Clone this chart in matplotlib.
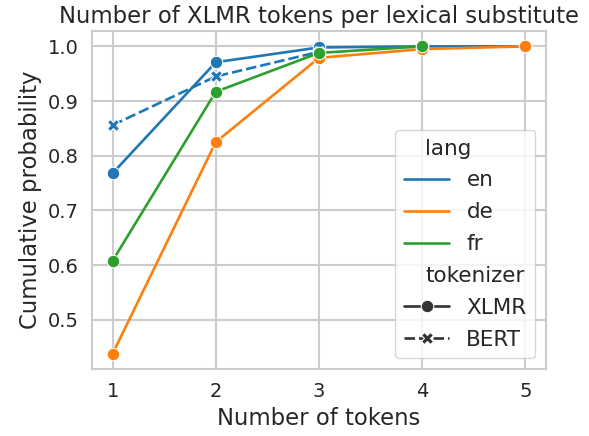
import matplotlib
matplotlib.use("Agg")
import matplotlib.pyplot as plt
import seaborn as sns
import pandas as pd

langs = ["en", "en", "en", "en", "en", "de", "de", "de", "de", "de", "fr", "fr", "fr", "fr", "en", "en", "en"]
tokenizers = ["XLMR"] * 14 + ["BERT"] * 3
n_tokens = [1, 2, 3, 4, 5, 1, 2, 3, 4, 5, 1, 2, 3, 4, 1, 2, 3]
cum_prob = [0.768, 0.971, 0.998, 1.0, 1.0,
            0.438, 0.825, 0.979, 0.995, 1.0,
            0.608, 0.917, 0.988, 1.0,
            0.856, 0.945, 0.99]
x_ticks = [1, 2, 3, 4, 5]
y_ticks = [0.5, 0.6, 0.7, 0.8, 0.9, 1.0]

df = pd.DataFrame({"Number of tokens": n_tokens, "Cumulative probability": cum_prob,
                   "lang": langs, "tokenizer": tokenizers})

sns.set_theme(style="whitegrid")
plt.rcParams.update({
    "xtick.labelsize": 14, "ytick.labelsize": 14,
    "axes.labelsize": 16.4, "axes.titlesize": 16.4,
    "legend.fontsize": 15.5, "grid.linewidth": 1.5, "axes.linewidth": 1.5,
})
fig = plt.figure(figsize=(5.89, 4.36), dpi=100)
ax = fig.add_axes([92 / 589, 1 - 369 / 436, (546 - 92) / 589, (369 - 31) / 436])
sns.lineplot(data=df, x="Number of tokens", y="Cumulative probability", hue="lang",
             style="tokenizer", markers=True, palette="tab10", linewidth=1.9,
             markersize=9,
             hue_order=["en", "de", "fr"], style_order=["XLMR", "BERT"], ax=ax)
ax.set_title("Number of XLMR tokens per lexical substitute")
ax.set_xticks(x_ticks)
ax.set_yticks(y_ticks)
leg = ax.legend(loc="lower right", handlelength=2.1, labelspacing=0.55)

# shift the group subtitles left, as in the reference
try:
    col = leg._legend_handle_box.get_children()[0]
    for row in col.get_children():
        da, ta = row.get_children()
        if ta._text.get_text() in ("lang", "tokenizer"):
            da.width = 3
except Exception:
    pass

fig.savefig("out.png", dpi=100)
